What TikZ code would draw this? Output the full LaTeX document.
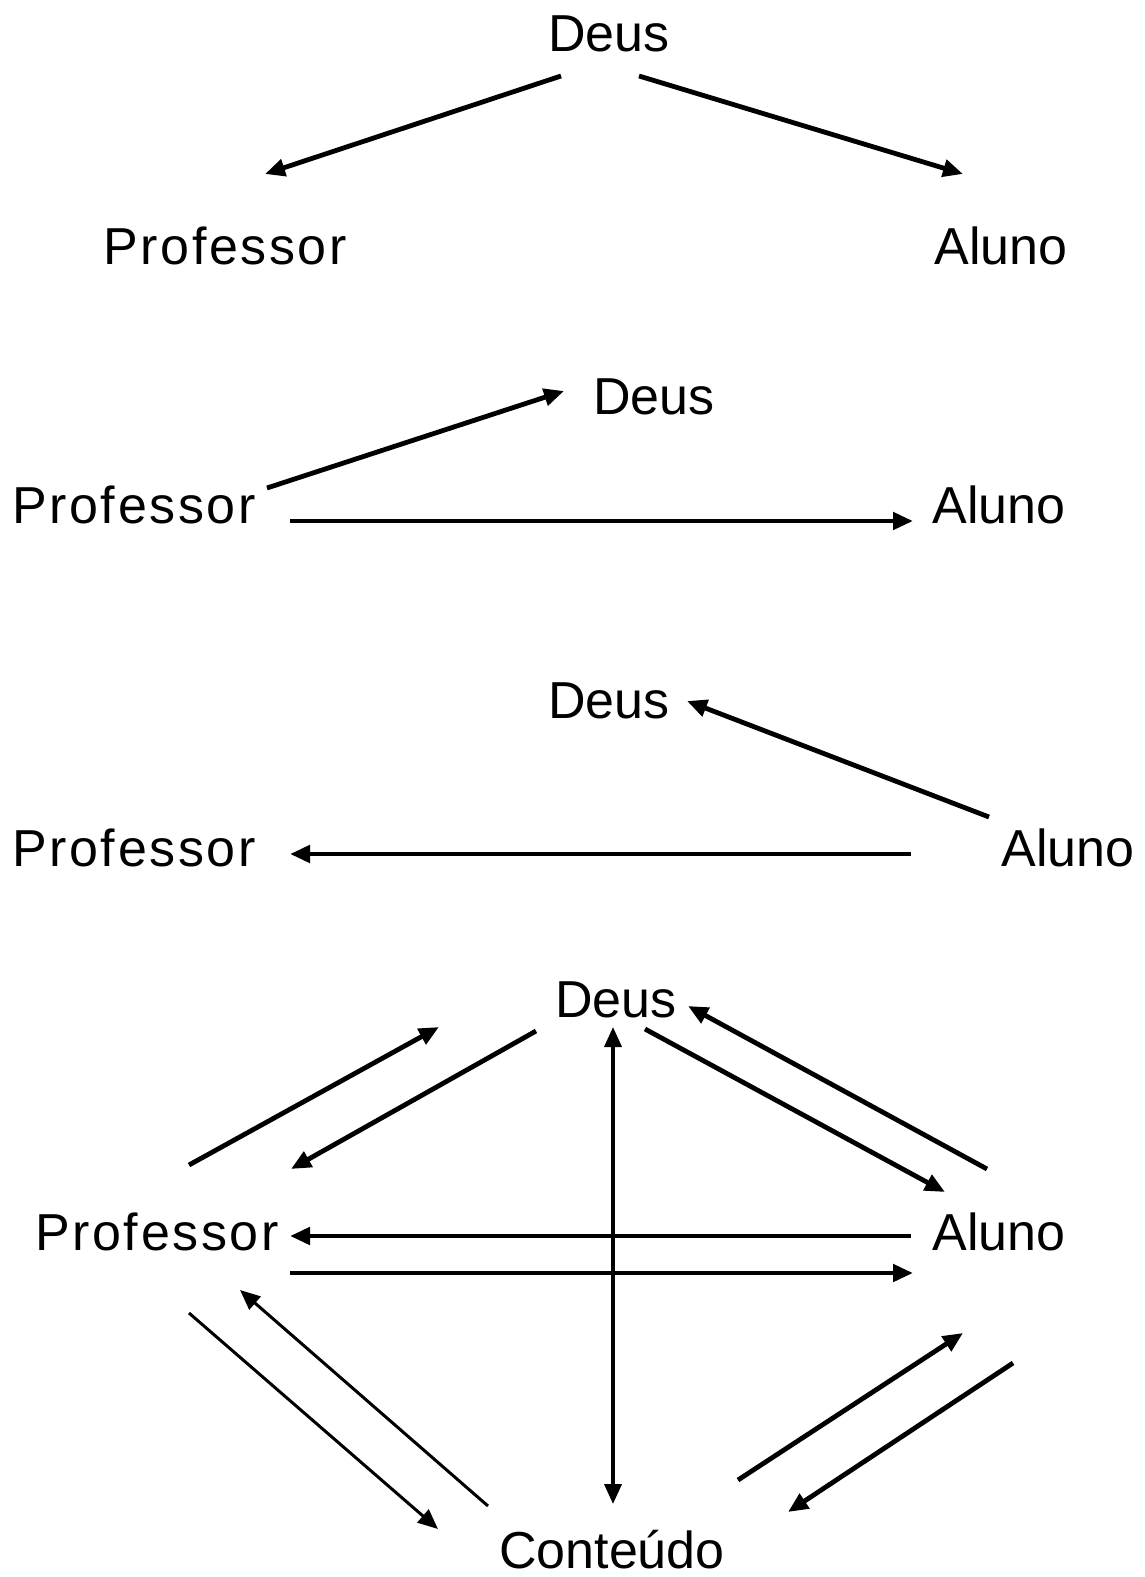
\documentclass[tikz,border=0pt]{standalone}
\usepackage{fontspec}
\setmainfont{Liberation Sans}
\usetikzlibrary{arrows.meta}
\tikzset{
  wordnode/.style={anchor=base,inner sep=0pt,font=\fontsize{26}{30}\selectfont},
  widenode/.style={wordnode,font=\fontsize{26}{30}\selectfont\addfontfeature{LetterSpace=5}},
  linkarrow/.style={-{Triangle[length=10pt,width=8.5pt]},line width=2.4pt},
  thinarrow/.style={-{Triangle[length=10pt,width=8.5pt]},line width=1.5pt},
}
\begin{document}
\begin{tikzpicture}[x=0.5pt,y=-0.5pt]
  \useasboundingbox (0,0) rectangle (1144,1577);
  % first panel
  \node[wordnode] (d1) at (609,52) {Deus};
  \node[widenode] (p1) at (225,265) {Professor};
  \node[wordnode] (a1) at (1001,265) {Aluno};
  \draw[linkarrow] ([shift={(-48,24)}]d1.base) -- ([shift={(40,-91)}]p1.base);
  \draw[linkarrow] ([shift={(30,24)}]d1.base) -- ([shift={(-38,-91)}]a1.base);
  % second panel
  \node[wordnode] (d2) at (654,415) {Deus};
  \node[widenode] (p2) at (134,523) {Professor};
  \node[wordnode] (a2) at (999,523) {Aluno};
  \draw[linkarrow] ([shift={(133,-35)}]p2.base) -- ([shift={(-90,-24)}]d2.base);
  \draw[linkarrow] ([shift={(156,-2)}]p2.base) -- ([shift={(-86,-2)}]a2.base);
  % third panel
  \node[wordnode] (d3) at (609,718) {Deus};
  \node[widenode] (p3) at (134,866) {Professor};
  \node[wordnode] (a3) at (1068,866) {Aluno};
  \draw[linkarrow] ([shift={(-79,-49)}]a3.base) -- ([shift={(78,-17)}]d3.base);
  \draw[linkarrow] ([shift={(-157,-12)}]a3.base) -- ([shift={(156,-12)}]p3.base);
  % fourth panel
  \node[wordnode] (d4) at (616,1017) {Deus};
  \node[widenode] (p4) at (157,1250) {Professor};
  \node[wordnode] (a4) at (999,1250) {Aluno};
  \node[wordnode] (c4) at (612,1568) {Conteúdo};
  \draw[linkarrow] ([shift={(32,-85)}]p4.base) -- ([shift={(-177,10)}]d4.base);
  \draw[linkarrow] ([shift={(-80,14)}]d4.base) -- ([shift={(134,-81)}]p4.base);
  \draw[linkarrow] ([shift={(29,12)}]d4.base) -- ([shift={(-54,-58)}]a4.base);
  \draw[linkarrow] ([shift={(-12,-81)}]a4.base) -- ([shift={(72,-11)}]d4.base);
  \draw[{Triangle[length=10pt,width=8.5pt]}-{Triangle[length=10pt,width=8.5pt]},line width=1.9pt] ([shift={(-3,10)}]d4.base) -- ([shift={(1,-64)}]c4.base);
  \draw[linkarrow] ([shift={(-88,-14)}]a4.base) -- ([shift={(133,-14)}]p4.base);
  \draw[linkarrow] ([shift={(133,23)}]p4.base) -- ([shift={(-86,23)}]a4.base);
  \draw[thinarrow] ([shift={(32,63)}]p4.base) -- ([shift={(-174,-39)}]c4.base);
  \draw[thinarrow] ([shift={(-124,-62)}]c4.base) -- ([shift={(83,40)}]p4.base);
  \draw[linkarrow] ([shift={(126,-88)}]c4.base) -- ([shift={(-36,83)}]a4.base);
  \draw[linkarrow] ([shift={(14,113)}]a4.base) -- ([shift={(176,-56)}]c4.base);
\end{tikzpicture}
\end{document}
